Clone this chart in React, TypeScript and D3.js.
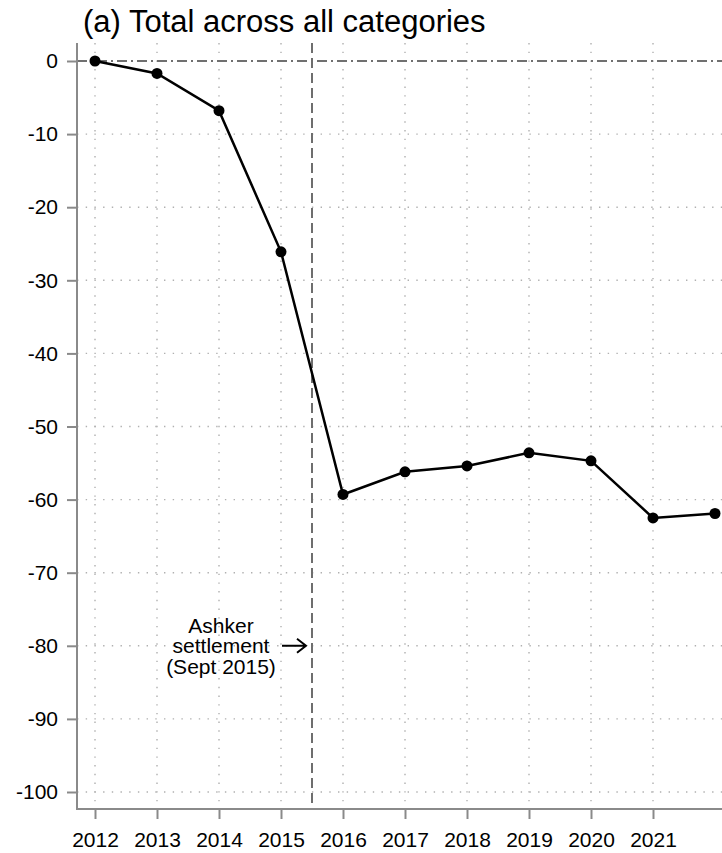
import React, { useEffect, useRef } from 'react';
import * as d3 from 'd3';

// data
const years = [2012, 2013, 2014, 2015, 2016, 2017, 2018, 2019, 2020, 2021, 2022];
const values = [0, -1.7, -6.8, -26.1, -59.3, -56.2, -55.4, -53.6, -54.7, -62.5, -61.9];
const xTicks = [2012, 2013, 2014, 2015, 2016, 2017, 2018, 2019, 2020, 2021];
const yTicks = [0, -10, -20, -30, -40, -50, -60, -70, -80, -90, -100];
const settlementYear = 2015.5;
const noteLines = ['Ashker', 'settlement', '(Sept 2015)'];
const noteY = -80;

const W = 722, H = 853;
const left = 77, top = 43, bottom = 809;
const font = 'Liberation Sans, Arial, Helvetica, sans-serif';

export default function App() {
    const ref = useRef<SVGSVGElement>(null);

    useEffect(() => {
        const svg = d3.select(ref.current);
        svg.selectAll('*').remove();

        const x = d3.scaleLinear().domain([2012, 2021]).range([95, 653]);
        const y = d3.scaleLinear().domain([0, -100]).range([61, 792]);

        // grid
        const grid = svg.append('g');
        grid.selectAll('.hgrid')
            .data(yTicks.filter(d => d !== 0))
            .enter()
            .append('line')
            .attr('x1', left).attr('x2', W)
            .attr('y1', d => y(d)).attr('y2', d => y(d))
            .attr('stroke', '#b0b0b0')
            .attr('stroke-width', 1.4)
            .attr('stroke-dasharray', '1.4,7.3');
        grid.selectAll('.vgrid')
            .data(xTicks)
            .enter()
            .append('line')
            .attr('x1', d => x(d)).attr('x2', d => x(d))
            .attr('y1', top).attr('y2', bottom)
            .attr('stroke', '#b0b0b0')
            .attr('stroke-width', 1.4)
            .attr('stroke-dasharray', '1.4,7.3');

        // zero line (dash-dot)
        svg.append('line')
            .attr('x1', left).attr('x2', W)
            .attr('y1', y(0)).attr('y2', y(0))
            .attr('stroke', '#707070')
            .attr('stroke-width', 2)
            .attr('stroke-dasharray', '10,4,2,4');

        // settlement line
        svg.append('line')
            .attr('x1', x(settlementYear)).attr('x2', x(settlementYear))
            .attr('y1', top).attr('y2', bottom)
            .attr('stroke', '#6e6e6e')
            .attr('stroke-width', 2)
            .attr('stroke-dasharray', '10,5');

        // axes
        const yAxis = svg.append('g')
            .attr('transform', 'translate(' + left + ',0)')
            .call(d3.axisLeft(y).tickValues(yTicks).tickSize(10).tickPadding(9).tickSizeOuter(0)
                .tickFormat(d => String(d)));
        const xAxis = svg.append('g')
            .attr('transform', 'translate(0,' + bottom + ')')
            .call(d3.axisBottom(x).tickValues(xTicks).tickSize(10).tickPadding(13).tickSizeOuter(0)
                .tickFormat(d => String(d)));

        [yAxis, xAxis].forEach(ax => {
            ax.select('.domain').remove();
            ax.selectAll('line').attr('stroke', '#8a8a8a').attr('stroke-width', 2);
            ax.selectAll('text')
                .attr('fill', '#000')
                .style('font-family', font)
                .style('font-size', '21px');
        });
        svg.append('line')
            .attr('x1', left).attr('x2', left).attr('y1', top).attr('y2', bottom + 1)
            .attr('stroke', '#8a8a8a').attr('stroke-width', 2);
        svg.append('line')
            .attr('x1', left - 1).attr('x2', W).attr('y1', bottom).attr('y2', bottom)
            .attr('stroke', '#8a8a8a').attr('stroke-width', 2);

        // series
        const pts = years.map((d, i) => [x(d), y(values[i])] as [number, number]);
        svg.append('path')
            .attr('d', d3.line()(pts))
            .attr('fill', 'none')
            .attr('stroke', '#000')
            .attr('stroke-width', 2.5);
        svg.selectAll('.dot')
            .data(pts)
            .enter()
            .append('circle')
            .attr('cx', d => d[0])
            .attr('cy', d => d[1])
            .attr('r', 5.5)
            .attr('fill', '#000');

        // annotation
        const note = svg.append('text')
            .attr('text-anchor', 'middle')
            .style('font-family', font)
            .style('font-size', '21px');
        noteLines.forEach((t, i) => {
            note.append('tspan')
                .attr('x', 221)
                .attr('y', y(noteY) - 13 + i * 20.5)
                .text(t);
        });
        const ay = y(noteY);
        const ax2 = x(settlementYear) - 6;
        svg.append('path')
            .attr('d', 'M' + (ax2 - 24) + ',' + ay + 'H' + ax2 + 'M' + (ax2 - 9) + ',' + (ay - 7) + 'L' + ax2 + ',' + ay + 'L' + (ax2 - 9) + ',' + (ay + 7))
            .attr('fill', 'none')
            .attr('stroke', '#000')
            .attr('stroke-width', 2);

        // title
        svg.append('text')
            .attr('x', 83)
            .attr('y', 32)
            .style('font-family', font)
            .style('font-size', '31px')
            .text('(a) Total across all categories');
    }, []);

    return (
        <svg ref={ref} width={W} height={H}
             style={{ position: 'absolute', left: 0, top: 0, background: '#fff' }} />
    );
}
